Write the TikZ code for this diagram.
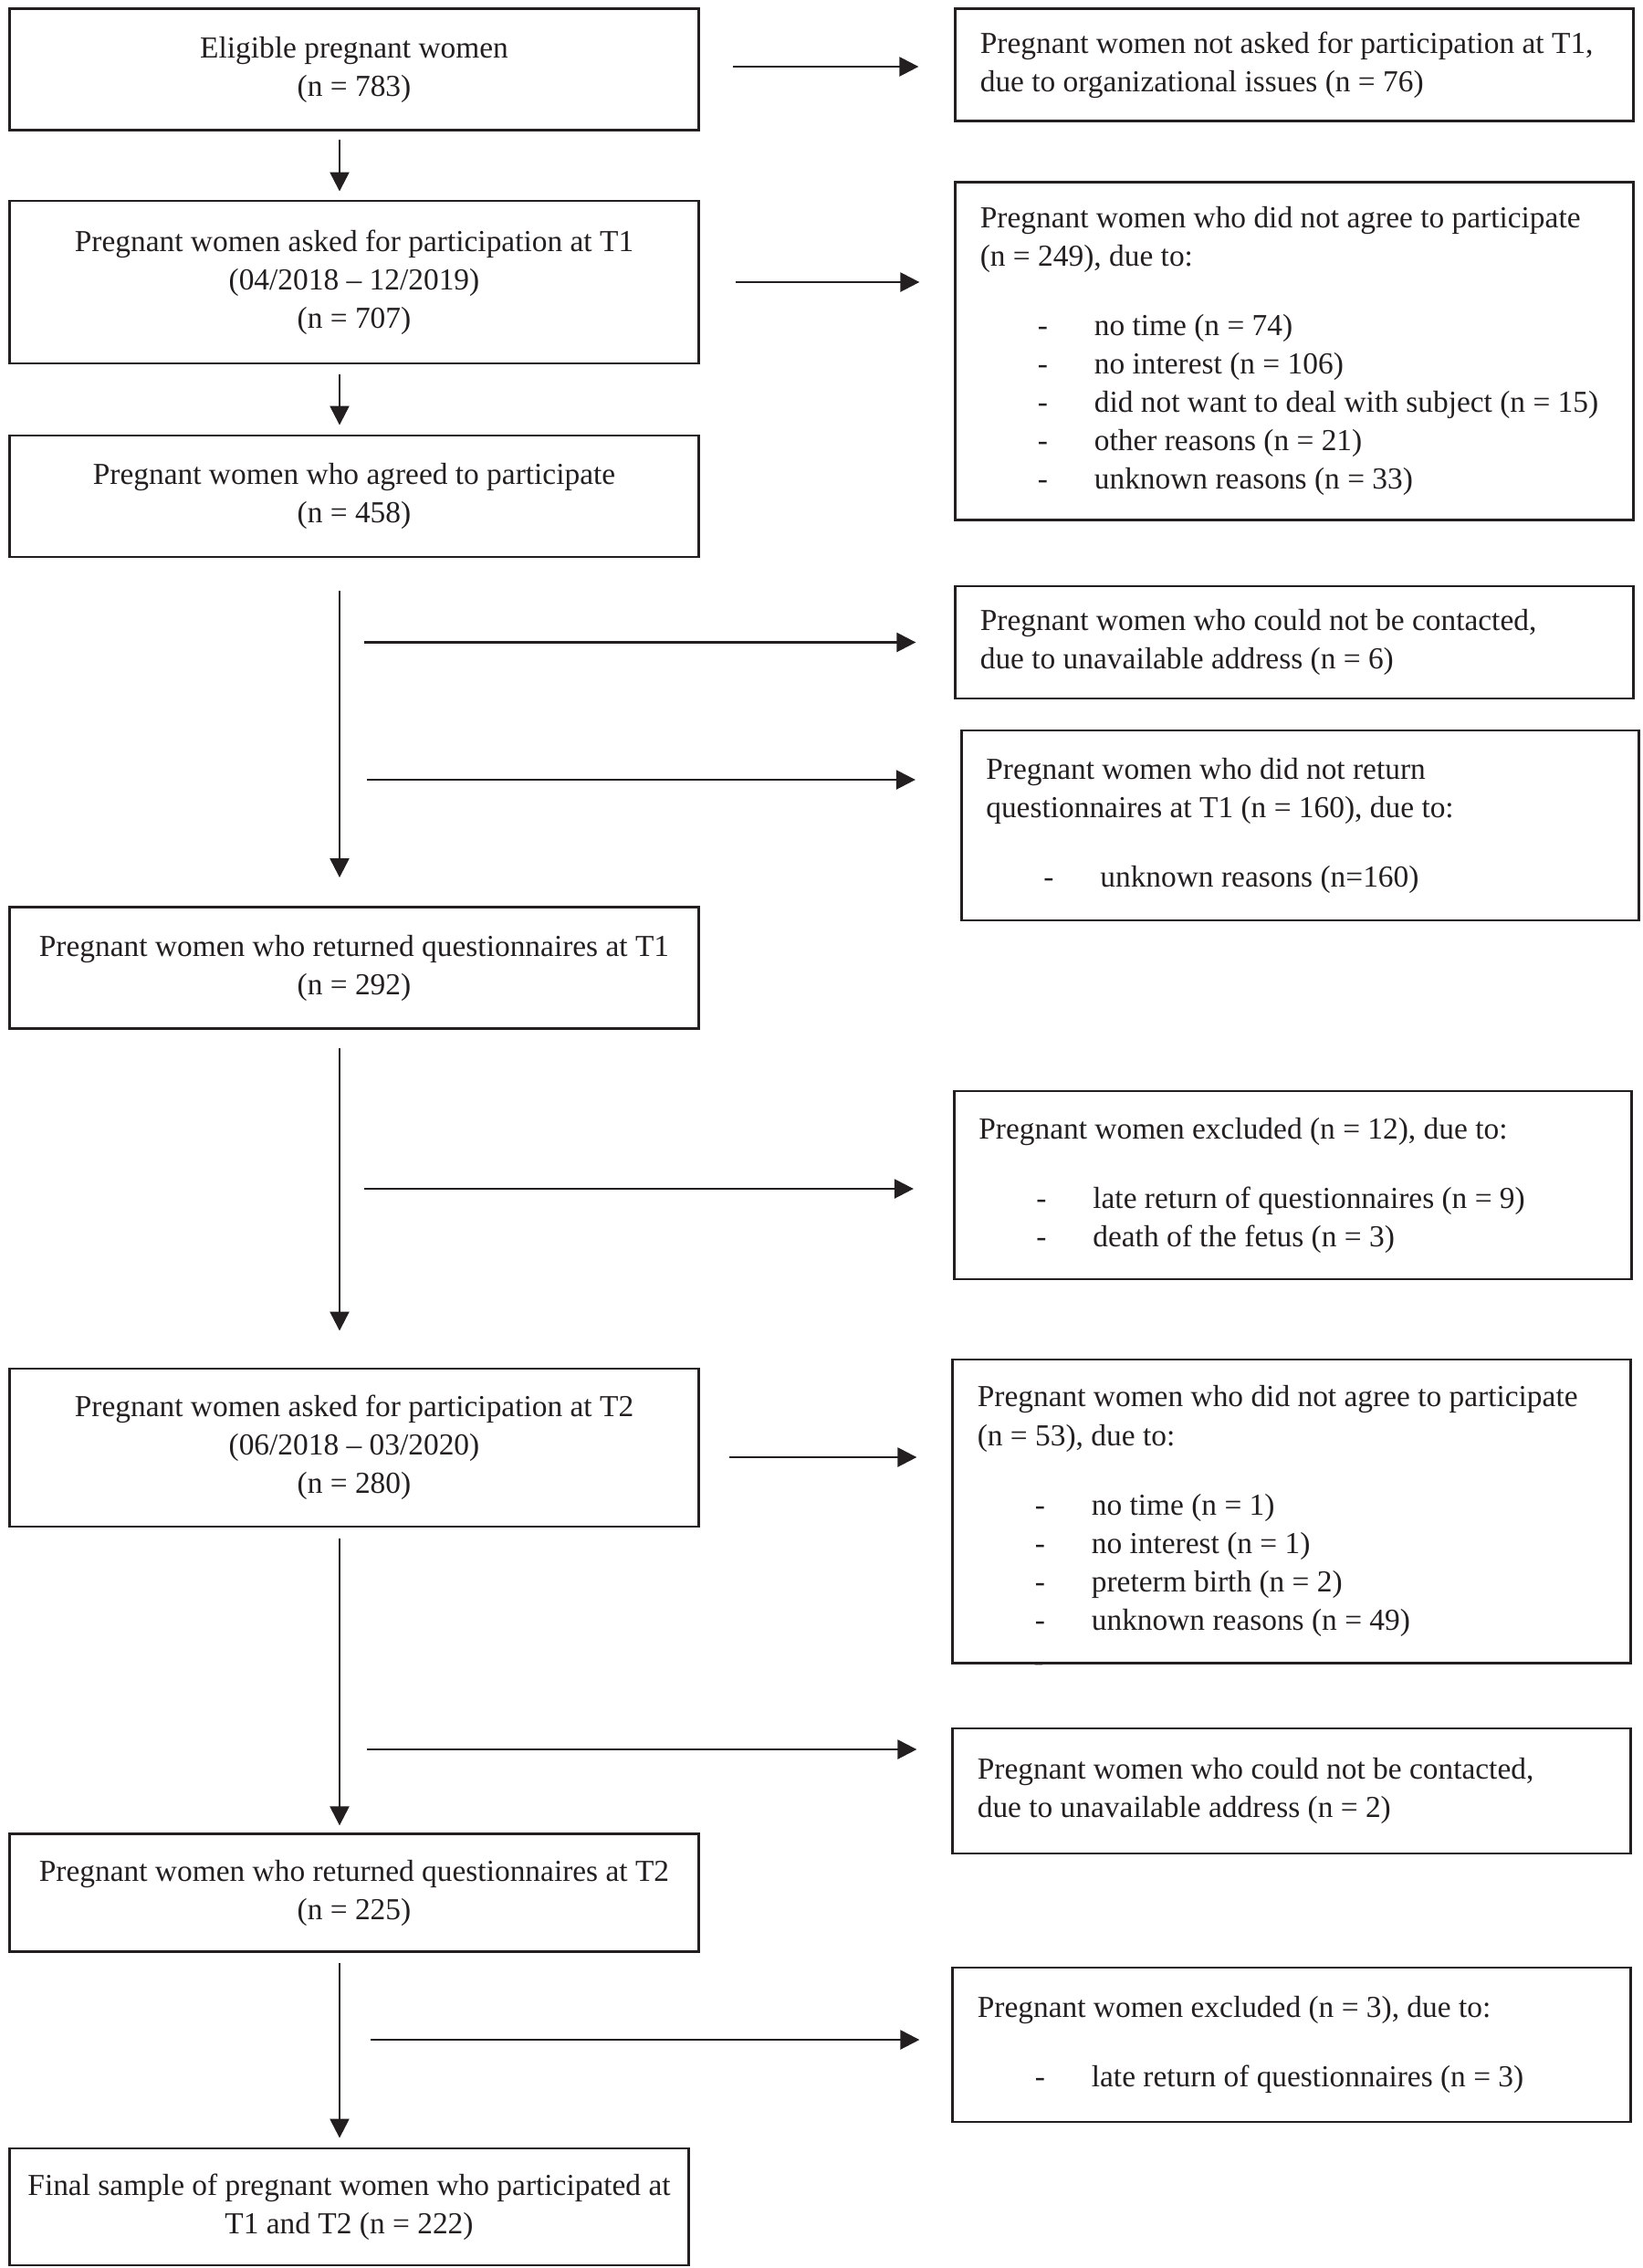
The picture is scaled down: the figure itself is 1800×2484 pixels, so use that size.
\documentclass[tikz,border=0pt]{standalone}
\usepackage{fontspec}
\setmainfont{Liberation Serif}
\usetikzlibrary{arrows.meta}

\definecolor{ink}{HTML}{231F20}
\newcommand{\boxfont}{\fontsize{9.5pt}{11.95pt}\selectfont}
\newcommand{\dashitem}{\makebox[1.25cm][l]{\hspace*{0.63cm}-}}

\begin{document}
\begin{tikzpicture}[x=0.01cm,y=-0.01cm,
  box/.style={draw=ink, text=ink, line width=0.8pt, inner sep=0pt, font=\boxfont},
  leftbox/.style={box, align=center, minimum width=7.54cm},
  rightbox/.style={box, align=flush left, text width=6.88cm, inner xsep=0.27cm},
  arr/.style={draw=ink, line width=0.7pt, -{Triangle[length=0.21cm,width=0.21cm]}}]
  \useasboundingbox (0,0) rectangle (1800,2484);

  % main flow
  \node [leftbox, minimum height=1.33cm] (elig) at (388,76)
    {Eligible pregnant women\\(n = 783)};
  \node [leftbox, minimum height=1.78cm] (askone) at (388,309)
    {Pregnant women asked for participation at T1\\(04/2018 – 12/2019)\\(n = 707)};
  \node [leftbox, minimum height=1.33cm] (agreed) at (388,543.5)
    {Pregnant women who agreed to participate\\(n = 458)};
  \node [leftbox, minimum height=1.33cm] (retone) at (388,1060)
    {Pregnant women who returned questionnaires at T1\\(n = 292)};
  \node [leftbox, minimum height=1.73cm] (asktwo) at (388,1585.5)
    {Pregnant women asked for participation at T2\\(06/2018 – 03/2020)\\(n = 280)};
  \node [leftbox, minimum height=1.285cm] (rettwo) at (388,2073)
    {Pregnant women who returned questionnaires at T2\\(n = 225)};
  \node [leftbox, minimum width=7.43cm, minimum height=1.28cm] (final) at (382.5,2417)
    {Final sample of pregnant women who participated at\\T1 and T2 (n = 222)};

  % drop-outs
  \node [rightbox, minimum height=1.235cm] (notasked) at (1418,71)
    {Pregnant women not asked for participation at T1,\\due to organizational issues (n = 76)};
  \node [rightbox, minimum height=3.69cm] (refone) at (1418,384.5)
    {Pregnant women who did not agree to participate\\(n = 249), due to:\\[0.34cm]
     \dashitem no time (n = 74)\\
     \dashitem no interest (n = 106)\\
     \dashitem did not want to deal with subject (n = 15)\\
     \dashitem other reasons (n = 21)\\
     \dashitem unknown reasons (n = 33)};
  \node [rightbox, minimum height=1.23cm] (noaddrone) at (1418,703.5)
    {Pregnant women who could not be contacted,\\due to unavailable address (n = 6)};
  \node [rightbox, minimum height=2.08cm] (noreturn) at (1424.5,904)
    {Pregnant women who did not return\\questionnaires at T1 (n = 160), due to:\\[0.34cm]
     \dashitem unknown reasons (n=160)};
  \node [rightbox, minimum height=2.06cm] (exclone) at (1416.5,1298)
    {Pregnant women excluded (n = 12), due to:\\[0.34cm]
     \dashitem late return of questionnaires (n = 9)\\
     \dashitem death of the fetus (n = 3)};
  \node [rightbox, minimum height=3.32cm] (reftwo) at (1415,1655)
    {Pregnant women who did not agree to participate\\(n = 53), due to:\\[0.34cm]
     \dashitem no time (n = 1)\\
     \dashitem no interest (n = 1)\\
     \dashitem preterm birth (n = 2)\\
     \dashitem unknown reasons (n = 49)};
  \node [box, draw=none, anchor=base] (strayd) at (1138,1830) {-};
  \node [rightbox, minimum height=1.37cm] (noaddrtwo) at (1415,1961.5)
    {Pregnant women who could not be contacted,\\due to unavailable address (n = 2)};
  \node [rightbox, minimum height=1.69cm] (excltwo) at (1415,2239.5)
    {Pregnant women excluded (n = 3), due to:\\[0.34cm]
     \dashitem late return of questionnaires (n = 3)};

  % downward arrows
  \coordinate (spine) at (372,0);
  \draw [arr, shorten <=0.095cm, shorten >=0.09cm] (elig.south -| spine) -- (askone.north -| spine);
  \draw [arr, shorten <=0.11cm, shorten >=0.10cm] (askone.south -| spine) -- (agreed.north -| spine);
  \draw [arr, shorten <=0.36cm, shorten >=0.31cm] (agreed.south -| spine) -- (retone.north -| spine);
  \draw [arr, shorten <=0.20cm, shorten >=0.40cm] (retone.south -| spine) -- (asktwo.north -| spine);
  \draw [arr, shorten <=0.12cm, shorten >=0.08cm] (asktwo.south -| spine) -- (rettwo.north -| spine);
  \draw [arr, shorten <=0.115cm, shorten >=0.10cm] (rettwo.south -| spine) -- (final.north -| spine);

  % sideways arrows
  \coordinate (hone) at (803,73);
  \coordinate (htwo) at (806,309);
  \coordinate (hthree) at (399,703.5);
  \coordinate (hfour) at (402,854);
  \coordinate (hfive) at (399,1302);
  \coordinate (hsix) at (799,1596);
  \coordinate (hseven) at (402,1916);
  \coordinate (height) at (406,2234);
  \draw [arr, shorten >=0.39cm] (hone) -- (hone -| notasked.west);
  \draw [arr, shorten >=0.38cm] (htwo) -- (htwo -| refone.west);
  \draw [arr, shorten >=0.42cm] (hthree) -- (hthree -| noaddrone.west);
  \draw [arr, shorten >=0.49cm] (hfour) -- (hfour -| noreturn.west);
  \draw [arr, shorten >=0.43cm] (hfive) -- (hfive -| exclone.west);
  \draw [arr, shorten >=0.38cm] (hsix) -- (hsix -| reftwo.west);
  \draw [arr, shorten >=0.38cm] (hseven) -- (hseven -| noaddrtwo.west);
  \draw [arr, shorten >=0.35cm] (height) -- (height -| excltwo.west);
\end{tikzpicture}
\end{document}
